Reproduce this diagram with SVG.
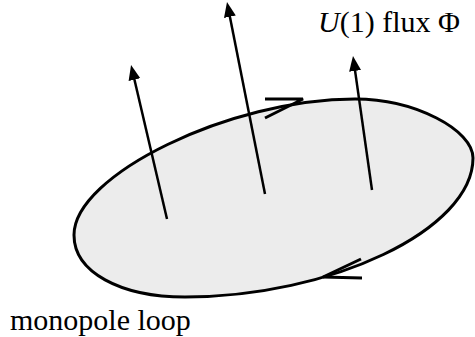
<svg xmlns="http://www.w3.org/2000/svg" width="475" height="337" viewBox="0 0 475 337">
<style>
.loop{fill:#ececec;stroke:#000;stroke-width:3}
.flux{stroke:#000;stroke-width:2.5;fill:none}
.barb{stroke:#000;stroke-width:3;fill:none}
.lbl{font-family:"Liberation Serif","Times New Roman",serif;font-size:30px;fill:#000}
</style>
<defs>
<marker id="ah" markerUnits="userSpaceOnUse" markerWidth="16" markerHeight="14" viewBox="0 -7 16 14" refX="2" refY="0" orient="auto">
<path d="M0,-6 L15,0 L0,6 z" fill="#000"/>
</marker>
</defs>
<g id="loop">
<path class="loop" d="M74,235 C74,175 230,99 355,99 C415,99 473,130 473,158 C473,230 330,297 185,297 C120,297 74,272 74,235 Z"/>
<path class="barb" d="M265,99 L303,99 L265,118"/>
<path class="barb" d="M362,278 L323,277 L361,259"/>
</g>
<g id="connectors">
<line class="flux" x1="167" y1="219" x2="134" y2="77.7" marker-end="url(#ah)"/>
<line class="flux" x1="265" y1="194" x2="229.5" y2="14.8" marker-end="url(#ah)"/>
<line class="flux" x1="372" y1="190" x2="354.8" y2="68.9" marker-end="url(#ah)"/>
</g>
<g id="labels">
<text class="lbl" x="318" y="32"><tspan font-style="italic">U</tspan>(1) flux Φ</text>
<text class="lbl" x="10" y="330">monopole loop</text>
</g>
</svg>
